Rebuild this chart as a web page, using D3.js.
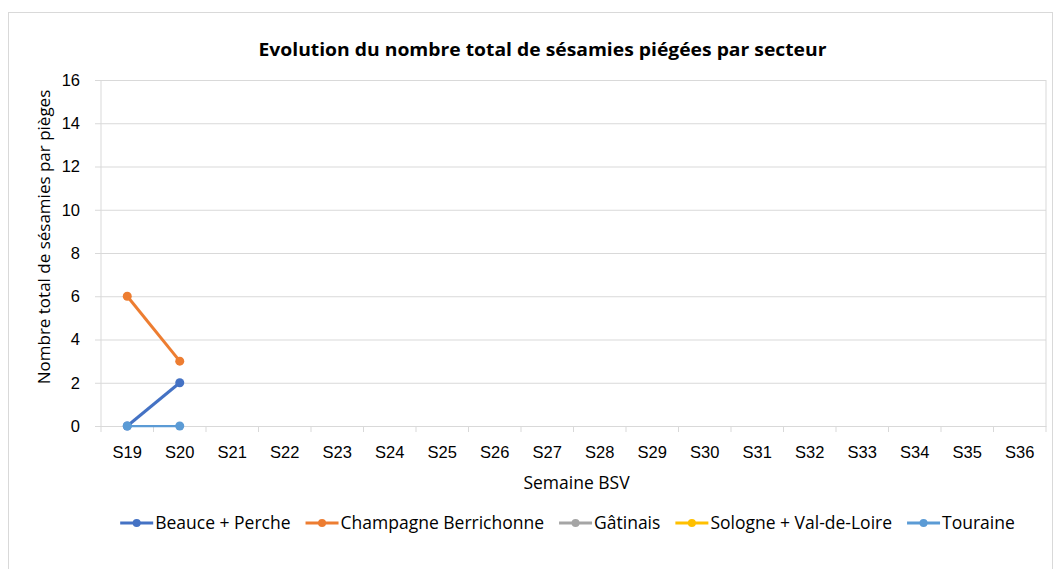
<!DOCTYPE html>
<html>
<head>
<meta charset="utf-8">
<script src="https://cdn.jsdelivr.net/npm/d3@7"></script>
<style>
  body { margin: 0; background: #fff; }
  svg { display: block; font-family: "Open Sans", "Liberation Sans", sans-serif; }
</style>
</head>
<body>
<div id="chart"></div>
<script>
// ==== DATA ====
const WEEKS = ["S19","S20","S21","S22","S23","S24","S25","S26","S27","S28","S29","S30","S31","S32","S33","S34","S35","S36"];
const SECTORS = ["Beauce + Perche", "Champagne Berrichonne", "Gâtinais", "Sologne + Val-de-Loire", "Touraine"];
const COLORS = ["#4472C4", "#ED7D31", "#A5A5A5", "#FFC000", "#5B9BD5"];
const BEAUCE = [0, 2];
const CHAMPAGNE = [6, 3];
const GATINAIS = [];   // no visible points
const SOLOGNE = [];    // no visible points
const TOURAINE = [0, 0];
const Y_TICKS = [0, 2, 4, 6, 8, 10, 12, 14, 16];

const series = [BEAUCE, CHAMPAGNE, GATINAIS, SOLOGNE, TOURAINE].map((vals, i) => ({
  name: SECTORS[i],
  color: COLORS[i],
  values: vals.map((v, j) => ({ week: WEEKS[j], count: v }))
}));

// ==== SIZE ====
const width = 1053, height = 569;
const margin = { top: 80, right: 7, bottom: 143, left: 101 };

const x = d3.scaleBand().domain(WEEKS).range([margin.left, width - margin.right]);
const y = d3.scaleLinear().domain([0, 16]).range([height - margin.bottom, margin.top]);

const svg = d3.select("#chart").append("svg")
  .attr("width", width)
  .attr("height", height);

// outer chart border
svg.append("rect")
  .attr("x", 8.5).attr("y", 12.5)
  .attr("width", 1044).attr("height", 570)
  .attr("fill", "#fff")
  .attr("stroke", "#d9d9d9");

// Title
svg.append("text")
  .attr("x", 542.5)
  .attr("y", 56)
  .attr("text-anchor", "middle")
  .attr("font-size", 18)
  .attr("font-weight", "bold")
  .attr("fill", "#000")
  .attr("textLength", 568)
  .attr("lengthAdjust", "spacingAndGlyphs")
  .text("Evolution du nombre total de sésamies piégées par secteur");

// gridlines + y axis
const gy = svg.append("g")
  .attr("transform", `translate(${margin.left},0)`)
  .call(d3.axisLeft(y).tickValues(Y_TICKS).tickSize(-(width - margin.left - margin.right)).tickPadding(21));
gy.select(".domain").remove();
gy.selectAll(".tick line").attr("stroke", "#d9d9d9").attr("x1", -6);
gy.selectAll(".tick text").attr("font-size", 16.5).attr("fill", "#000");

// right border of plot area
svg.append("line")
  .attr("x1", width - margin.right).attr("x2", width - margin.right)
  .attr("y1", margin.top).attr("y2", height - margin.bottom)
  .attr("stroke", "#d9d9d9");
// left axis line
svg.append("line")
  .attr("x1", margin.left).attr("x2", margin.left)
  .attr("y1", margin.top).attr("y2", height - margin.bottom)
  .attr("stroke", "#d9d9d9");

// x axis
const gx = svg.append("g")
  .attr("transform", `translate(0,${height - margin.bottom})`)
  .call(d3.axisBottom(x).tickSize(0).tickPadding(20));
gx.select(".domain").attr("stroke", "#d9d9d9");
gx.selectAll(".tick text").attr("font-size", 16.5).attr("fill", "#000");
// tick marks between categories
gx.selectAll("line.cat")
  .data(WEEKS.concat(["end"]))
  .enter().append("line")
  .attr("class", "cat")
  .attr("x1", (d, i) => margin.left + i * x.bandwidth())
  .attr("x2", (d, i) => margin.left + i * x.bandwidth())
  .attr("y1", 0).attr("y2", 6)
  .attr("stroke", "#d9d9d9");

// axis titles
svg.append("text")
  .attr("x", (margin.left + width - margin.right) / 2 + 3)
  .attr("y", 489)
  .attr("text-anchor", "middle")
  .attr("font-size", 17.5)
  .attr("fill", "#000")
  .text("Semaine BSV");

svg.append("text")
  .attr("transform", `translate(50,${(margin.top + height - margin.bottom) / 2 - 16}) rotate(-90)`)
  .attr("text-anchor", "middle")
  .attr("font-size", 17)
  .attr("fill", "#000")
  .text("Nombre total de sésamies par pièges");

// ==== LINES ====
const line = d3.line()
  .x(d => x(d.week) + x.bandwidth() / 2)
  .y(d => y(d.count));

const gSeries = svg.append("g").selectAll("g")
  .data(series)
  .enter().append("g");

gSeries.append("path")
  .attr("fill", "none")
  .attr("stroke", d => d.color)
  .attr("stroke-width", d => d.name === "Touraine" ? 2.25 : 3)
  .attr("stroke-linejoin", "round")
  .attr("d", d => d.values.length ? line(d.values) : null);

gSeries.selectAll("circle")
  .data(d => d.values.map(v => ({ ...v, color: d.color })))
  .enter().append("circle")
  .attr("cx", d => x(d.week) + x.bandwidth() / 2)
  .attr("cy", d => y(d.count))
  .attr("r", 4.5)
  .attr("fill", d => d.color);

// ==== LEGEND ====
const legend = svg.append("g").attr("transform", "translate(0,523)");
const legendItems = legend.selectAll("g")
  .data(series)
  .enter().append("g");

legendItems.append("line")
  .attr("x1", 0).attr("x2", 33)
  .attr("stroke", d => d.color)
  .attr("stroke-width", 3);
legendItems.append("circle")
  .attr("cx", 16.5).attr("r", 4)
  .attr("fill", d => d.color);
legendItems.append("text")
  .attr("x", 35)
  .attr("y", 6)
  .attr("font-size", 17.5)
  .attr("fill", "#000")
  .text(d => d.name);

// lay out legend items centred under the plot
const gap = 15;
const widths = [];
legendItems.each(function() { widths.push(35 + d3.select(this).select("text").node().getComputedTextLength()); });
const total = d3.sum(widths) + gap * (widths.length - 1);
let cx = 567.5 - total / 2;
legendItems.attr("transform", (d, i) => {
  const t = `translate(${cx},0)`;
  cx += widths[i] + gap;
  return t;
});
</script>
</body>
</html>
